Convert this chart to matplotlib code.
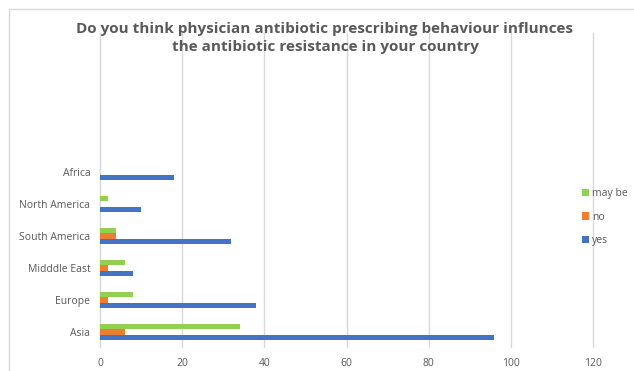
import numpy as np
import matplotlib
matplotlib.use("Agg")
import matplotlib.pyplot as plt
from matplotlib.patches import Rectangle

plt.rcParams['font.family'] = ['Open Sans', 'DejaVu Sans']

regions = ["Asia", "Europe", "Midddle East", "South America", "North America", "Africa"]
yes = [96, 38, 8, 32, 10, 18]
no = [6, 2, 2, 4, 0, 0]
maybe = [34, 8, 6, 4, 2, 0]

fig = plt.figure(figsize=(6.34, 3.71), dpi=100)
fig.patches.append(Rectangle((9/634, -0.1), 1.2, 1 - 9/371 + 0.1, transform=fig.transFigure,
                             fill=False, edgecolor="#d9d9d9", linewidth=1))
ax = fig.add_axes([100/634, 1 - 347/371, 493/634, 314/371])

y = np.arange(len(regions))
h = 0.17
ax.barh(y - h, yes, height=h, color="#4472C4", label="yes", zorder=3)
ax.barh(y, no, height=h, color="#ED7D31", label="no", zorder=3)
ax.barh(y + h, maybe, height=h, color="#92D050", label="may be", zorder=3)

ax.set_xlim(0, 120)
ax.set_ylim(-0.47, 9.34)
ax.set_xticks(range(0, 121, 20))
ax.set_yticks(y)
ax.set_yticklabels(regions)
ax.tick_params(axis="both", length=0, labelsize=7.5, colors="#595959", pad=8)
ax.tick_params(axis="y", pad=7)
ax.grid(axis="x", color="#d9d9d9", linewidth=1, zorder=0)
for gl in ax.get_xgridlines():
    gl.set_clip_on(False)
for s in ["top", "right", "bottom"]:
    ax.spines[s].set_visible(False)
ax.spines["left"].set_color("#d9d9d9")

handles, labels = ax.get_legend_handles_labels()
leg = fig.legend(handles[::-1], labels[::-1], loc="center left", bbox_to_anchor=(582/634, 1 - 217/371),
                 frameon=False, fontsize=7.5, handlelength=0.7, handleheight=0.7,
                 borderpad=0, borderaxespad=0,
                 handletextpad=0.3, labelspacing=1.2, labelcolor="#595959")

fig.text(325/634, 1 - 38/371,
         "Do you think physician antibiotic prescribing behaviour influnces\nthe antibiotic resistance in your country",
         ha="center", va="center", fontsize=11, fontweight="bold", color="#595959", linespacing=1.4)

fig.savefig("out.png", dpi=100)
